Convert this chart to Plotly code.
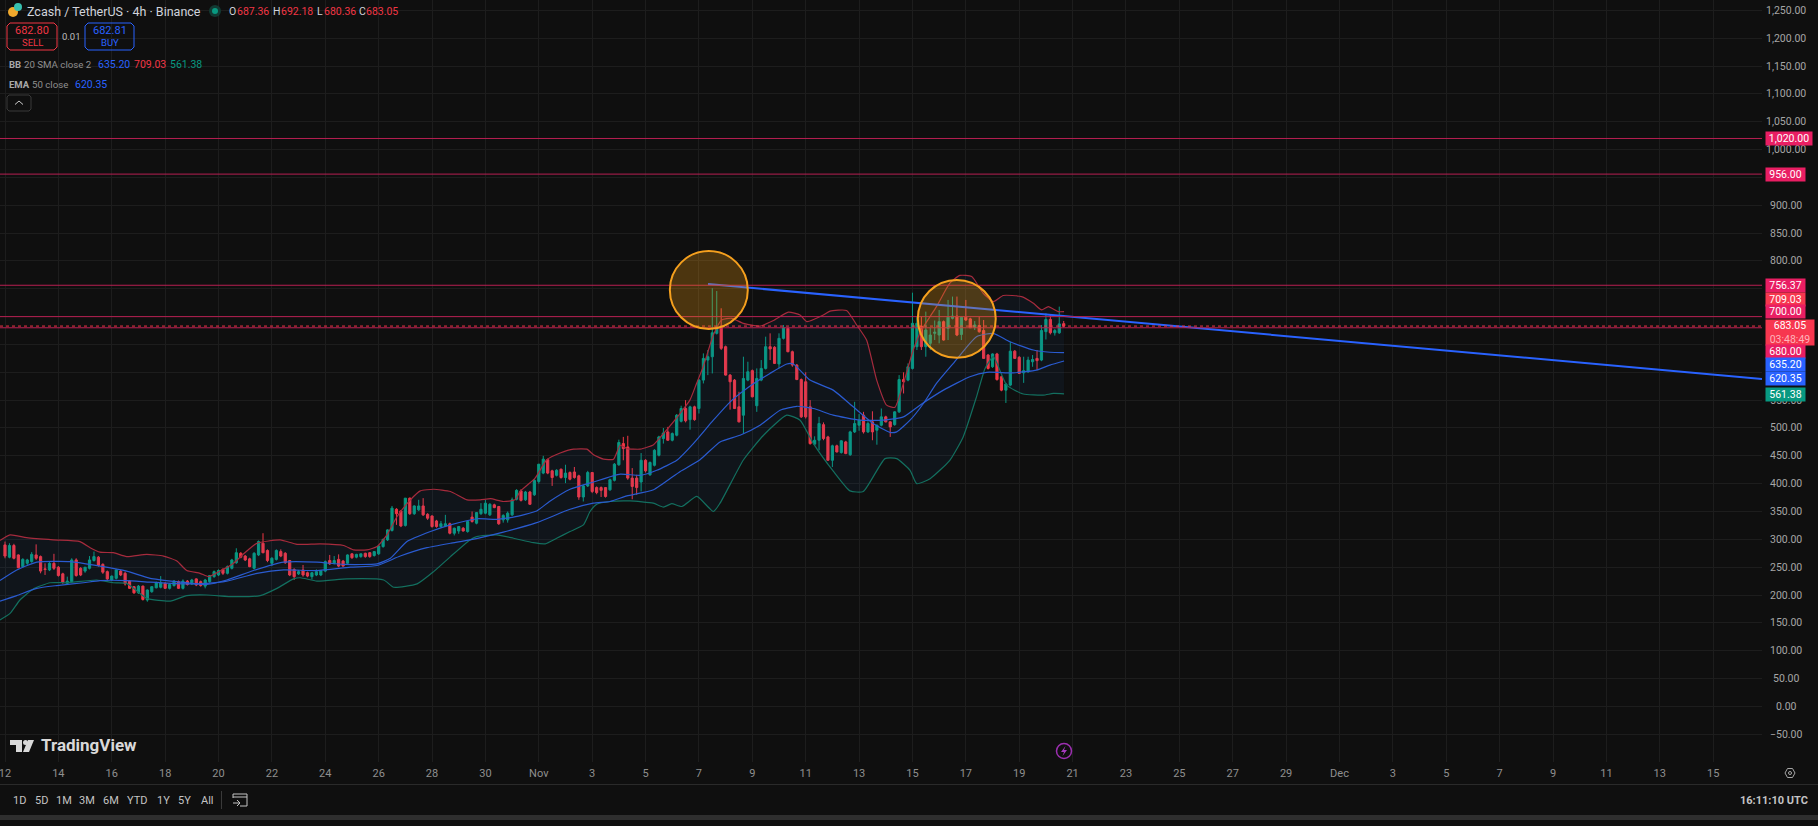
import pandas as pd
import plotly.graph_objects as go

# 4h candles, first one is Oct 12 00:00 UTC
opens = [290, 268, 289, 272, 251, 257, 260, 272, 269, 247,
         245, 257, 250, 238, 221, 224, 263, 248, 243, 248,
         262, 268, 255, 242, 227, 230, 243, 239, 225, 215,
         204, 216, 191, 206, 213, 214, 221, 212, 217, 224,
         212, 225, 220, 229, 224, 216, 224, 233, 236, 246,
         239, 248, 258, 275, 270, 265, 248, 272, 293, 280,
         257, 264, 278, 275, 262, 246, 238, 245, 240, 233,
         236, 236, 243, 262, 257, 264, 261, 257, 274, 268,
         269, 275, 276, 271, 274, 287, 299, 316, 354, 351,
         325, 374, 346, 353, 360, 345, 342, 333, 323, 324,
         328, 311, 315, 320, 314, 340, 329, 346, 347, 344,
         362, 359, 335, 335, 344, 372, 387, 371, 385, 380,
         404, 419, 443, 423, 415, 426, 411, 420, 421, 414,
         376, 396, 420, 393, 393, 393, 389, 406, 434, 472,
         466, 410, 410, 403, 442, 416, 433, 451, 481, 493,
         478, 487, 512, 535, 515, 538, 535, 586, 622, 628,
         670, 682, 646, 595, 586, 538, 523, 586, 603, 540,
         586, 607, 646, 645, 615, 661, 679, 637, 613, 587,
         583, 538, 471, 478, 506, 484, 442, 468, 456, 475,
         452, 493, 505, 523, 493, 511, 496, 505, 520, 511,
         506, 529, 587, 586, 607, 646, 683, 646, 652, 670,
         667, 691, 679, 697, 701, 668, 699, 696, 681, 684,
         675, 631, 610, 633, 592, 568, 577, 638, 627, 599,
         601, 619, 625, 622, 673, 695, 671, 671, 687.36]
highs = [296, 293, 292, 273, 266, 265, 277, 291, 271, 257,
         259, 274, 252, 240, 233, 266, 266, 250, 250, 270,
         278, 270, 257, 244, 235, 247, 245, 242, 227, 216,
         218, 217, 210, 216, 224, 234, 223, 221, 227, 226,
         228, 227, 229, 230, 226, 229, 236, 244, 246, 248,
         253, 265, 284, 277, 272, 267, 277, 298, 311, 282,
         268, 282, 282, 277, 263, 248, 245, 254, 242, 241,
         246, 245, 262, 272, 270, 273, 263, 273, 275, 274,
         274, 276, 277, 279, 290, 301, 318, 360, 356, 352,
         374, 375, 361, 371, 374, 347, 343, 335, 333, 344,
         330, 321, 324, 322, 333, 350, 349, 365, 371, 365,
         364, 360, 345, 350, 375, 390, 390, 387, 387, 408,
         435, 450, 445, 425, 426, 427, 434, 422, 430, 416,
         398, 423, 421, 395, 395, 394, 409, 437, 479, 484,
         486, 428, 416, 455, 444, 440, 462, 486, 500, 502,
         492, 525, 540, 550, 540, 540, 588, 634, 640, 751,
         746, 715, 648, 597, 588, 565, 628, 619, 605, 607,
         622, 664, 670, 647, 670, 685, 681, 639, 615, 589,
         600, 550, 485, 520, 510, 486, 470, 470, 478, 477,
         495, 547, 525, 529, 512, 530, 506, 535, 522, 512,
         530, 595, 600, 616, 743, 700, 700, 709, 680, 693,
         712, 693, 730, 736, 736, 700, 730, 698, 692, 700,
         694, 633, 634, 635, 594, 581, 655, 640, 629, 628,
         628, 631, 640, 685, 706, 703, 678, 718, 692.18]
lows = [266, 266, 264, 248, 249, 254, 258, 263, 239, 236,
        243, 245, 233, 220, 218, 222, 233, 234, 240, 246,
        260, 251, 238, 226, 225, 228, 234, 217, 211, 202,
        202, 190, 188, 204, 212, 212, 211, 210, 215, 211,
        210, 217, 218, 216, 215, 212, 222, 231, 234, 236,
        237, 246, 256, 266, 261, 250, 246, 270, 275, 259,
        252, 262, 268, 256, 234, 227, 236, 233, 232, 228,
        234, 234, 241, 254, 255, 250, 251, 255, 265, 266,
        267, 267, 267, 269, 272, 285, 297, 314, 326, 322,
        323, 344, 344, 351, 342, 335, 321, 321, 321, 322,
        309, 307, 310, 314, 312, 330, 327, 344, 345, 342,
        356, 326, 330, 330, 342, 370, 368, 369, 362, 378,
        400, 417, 417, 396, 413, 409, 401, 406, 409, 371,
        368, 394, 383, 381, 376, 375, 387, 404, 432, 442,
        407, 372, 380, 386, 420, 414, 431, 449, 472, 477,
        476, 485, 510, 510, 497, 513, 526, 580, 595, 598,
        668, 640, 594, 533, 534, 510, 490, 584, 555, 529,
        584, 605, 622, 615, 607, 659, 636, 610, 586, 518,
        517, 470, 469, 460, 478, 441, 430, 456, 454, 453,
        450, 491, 495, 490, 491, 478, 470, 503, 510, 484,
        504, 527, 562, 584, 605, 640, 640, 628, 640, 658,
        652, 657, 658, 695, 665, 658, 692, 680, 676, 671,
        625, 605, 608, 585, 566, 545, 575, 624, 597, 581,
        599, 610, 604, 620, 659, 668, 666, 669, 680.36]
closes = [270, 289, 266, 249, 264, 263, 273, 266, 243, 246,
          257, 248, 235, 223, 225, 263, 235, 236, 250, 263,
          269, 253, 241, 229, 234, 245, 236, 220, 212, 204,
          216, 192, 209, 215, 222, 222, 212, 219, 225, 212,
          225, 219, 227, 218, 217, 227, 235, 242, 244, 239,
          251, 263, 276, 268, 263, 251, 275, 296, 276, 262,
          266, 280, 270, 258, 236, 233, 242, 236, 234, 240,
          242, 244, 260, 256, 262, 252, 252, 272, 267, 273,
          274, 269, 269, 278, 288, 300, 317, 356, 346, 324,
          374, 346, 360, 360, 344, 338, 323, 323, 328, 328,
          311, 320, 323, 315, 332, 332, 348, 354, 365, 363,
          357, 328, 343, 347, 371, 388, 370, 385, 363, 406,
          435, 444, 419, 411, 424, 411, 419, 408, 411, 376,
          396, 420, 386, 384, 388, 377, 407, 435, 474, 463,
          410, 395, 393, 442, 423, 438, 460, 484, 491, 478,
          490, 523, 535, 513, 538, 515, 586, 625, 628, 671,
          682, 643, 595, 583, 535, 511, 589, 601, 556, 589,
          607, 646, 642, 616, 661, 680, 637, 613, 587, 520,
          520, 472, 478, 508, 481, 442, 468, 457, 477, 454,
          493, 508, 514, 493, 508, 493, 505, 520, 511, 502,
          529, 587, 583, 610, 688, 688, 646, 676, 667, 672,
          691, 658, 699, 701, 667, 699, 694, 680, 685, 673,
          625, 607, 633, 587, 568, 579, 638, 625, 598, 603,
          622, 623, 621, 675, 695, 671, 675, 687, 683.05]

# indicator lines, days counted from Oct 12 00:00
upper_days = [-0.19, 0.19, 0.81, 1.81, 2.81, 3.19, 3.56, 4.06, 4.56, 5.31, 5.94, 6.44, 6.81, 7.31, 7.63, 8.06,
              8.56, 8.94, 9.44, 10.31, 10.94, 11.81, 12.69, 13.06, 13.56, 13.94, 14.31, 14.69, 15.19, 15.56,
              16.06, 16.69, 17.31, 17.81, 18.19, 18.67, 19.11, 19.3, 19.86, 20.3, 20.8, 21.3, 21.8, 22.05,
              22.42, 22.8, 23.05, 23.3, 23.8, 24.3, 24.67, 25.29, 25.66, 25.91, 26.16, 26.54, 26.85, 27.23,
              27.66, 28.29, 28.79, 29.35, 29.79, 30.04, 30.66, 30.91, 31.53, 31.91, 32.28, 32.66, 33.03,
              33.34, 33.66, 34.03, 34.34, 34.9, 35.4, 35.78, 36.22, 36.65, 37.03, 37.4, 38.09, 38.53, 38.84,
              39.09, 39.46, 39.68]
upper_band = [298, 308, 303, 299, 296, 285, 277, 276, 269, 273, 270, 261, 244, 239, 233, 243,
              257, 274, 293, 299, 291, 292, 289, 281, 281, 287, 308, 341, 371, 387,
              390, 386, 371, 371, 373, 368, 371, 386, 410, 443, 455, 462, 462, 452,
              444, 444, 469, 463, 462, 470, 490, 526, 550, 580, 610, 667, 694, 697,
              688, 683, 693, 708, 703, 691, 703, 710, 711, 685, 658, 586, 541,
              537, 580, 640, 676, 718, 760, 774, 772, 742, 727, 738, 736, 724, 712,
              718, 709, 709.03]
basis_days = [-0.19, 0.44, 1.19, 2.44, 3.56, 4.56, 5.44, 6.44, 7.56, 8.31, 9.31, 10.44, 11.69, 12.69, 13.94,
              14.44, 15.06, 15.94, 16.69, 17.69, 18.42, 19.05, 19.92, 20.4, 21.17, 22.05, 23.05, 23.8, 24.42,
              25.17, 25.79, 26.54, 27.17, 27.79, 28.66, 29.29, 29.54, 30.16, 31.03, 31.78, 32.53, 33.16,
              33.41, 33.91, 34.41, 34.9, 35.53, 36.4, 37.03, 37.65, 38.53, 39.15, 39.68]
basis_band = [226, 245, 259, 260, 252, 243, 230, 224, 219, 227, 244, 259, 259, 255, 256,
              266, 296, 314, 326, 337, 336, 340, 351, 368, 390, 403, 417, 415, 424,
              442, 472, 514, 547, 571, 598, 615, 615, 586, 568, 538, 508, 492,
              493, 514, 544, 580, 616, 664, 670, 655, 640, 636, 635.2]
lower_days = [-0.19, 0.19, 0.56, 1.06, 1.69, 2.31, 3.44, 4.06, 4.56, 5.31, 6.19, 6.81, 7.56, 8.56, 9.56, 10.19,
              10.81, 11.06, 11.69, 12.81, 14.19, 14.56, 15.44, 16.06, 16.69, 17.42, 17.67, 18.42, 19.05, 19.8,
              20.24, 20.67, 21.17, 21.67, 21.92, 22.17, 22.67, 23.42, 24.29, 24.67, 24.98, 25.36, 25.92, 26.54,
              26.79, 27.67, 28.42, 29.29, 29.79, 30.29, 31.04, 31.66, 32.16, 32.97, 33.41, 33.91, 34.16, 34.66,
              35.4, 35.9, 36.4, 36.72, 37.03, 37.53, 38.15, 38.9, 39.28, 39.68]
lower_band = [155, 167, 191, 211, 222, 222, 227, 222, 221, 194, 189, 199, 200, 197, 199, 212,
              229, 231, 225, 229, 227, 214, 220, 242, 269, 299, 305, 308, 302, 294,
              292, 302, 314, 326, 350, 363, 368, 369, 365, 358, 364, 359, 377, 350,
              365, 443, 487, 523, 514, 472, 422, 387, 386, 445, 445, 424, 400, 409,
              442, 484, 556, 607, 628, 577, 561, 559, 562, 561.38]
ema_days = [-0.19, 0.44, 1.19, 1.94, 2.94, 3.56, 4.56, 5.44, 6.69, 7.56, 8.31, 9.44, 10.44, 11.69, 12.94, 13.94,
            14.81, 15.81, 16.69, 17.42, 18.67, 19.92, 21.17, 22.04, 22.67, 23.3, 24.3, 25.3, 26.04, 26.79,
            27.54, 28.29, 29.04, 29.66, 30.29, 31.03, 32.03, 32.91, 33.66, 34.28, 35.16, 36.15, 36.78, 37.78,
            38.65, 39.15, 39.68]
ema_50 = [189, 199, 212, 217, 222, 226, 226, 223, 220, 221, 225, 239, 245, 244, 250, 253,
          270, 285, 293, 299, 313, 330, 354, 365, 368, 378, 389, 422, 443, 475,
          487, 505, 532, 539, 535, 523, 514, 514, 520, 541, 568, 592, 600, 599,
          604, 613, 620.35]

level_prices = [1020, 956, 756.37, 700, 680]
last_price = 683.05
trend_days = [26.34, 65.83]
trend_prices = [758.6, 588]
# the price boxes cover 600, 650, 700, 750 and 950 on the scale
y_ticks = [-50, 0, 50, 100, 150, 200, 250, 300, 350, 400, 450, 500, 550, 800, 850, 900,
           1000, 1050, 1100, 1150, 1200, 1250]
x_tick_dates = [d for d in pd.date_range("2025-10-12", "2025-10-31", freq="2D")] \
    + pd.date_range("2025-11-01", "2025-11-30", freq="2D").tolist() \
    + pd.date_range("2025-12-01", "2025-12-15", freq="2D").tolist()
x_tick_text = ["Nov" if (d.month, d.day) == (11, 1) else "Dec" if (d.month, d.day) == (12, 1) else str(d.day)
               for d in x_tick_dates]

FONT = "Roboto"
BG = "#0f0f0f"
GREEN = "#089981"
RED = "#f23645"
BLUE = "#2962ff"
PINK = "#e91e63"
LEVEL = "#b81f52"
TEXT = "#d1d4dc"
DIM = "#8f8f8f"

PLOT_W, PLOT_H = 1762, 762
start = pd.Timestamp("2025-10-12")


def dates(days):
    return start + pd.to_timedelta(days, unit="D")


def px(x):
    return x / PLOT_W


def py(y):
    return 1 - y / PLOT_H


def label(text, x, y, size=11, color=TEXT, anchor="left", **kw):
    fig.add_annotation(text=text, x=px(x), y=py(y), xref="paper", yref="paper", xanchor=anchor, yanchor="middle",
                       showarrow=False, borderpad=0, font=dict(family=FONT, size=size, color=color), **kw)


def price_box(text, y, bg, w=39, h=13):
    fig.add_annotation(text=text, x=px(1765), y=py(y), xref="paper", yref="paper", xanchor="left", yanchor="middle",
                       showarrow=False, bgcolor=bg, width=w, height=h, borderpad=0, align="center",
                       font=dict(family=FONT, size=10.5, color="#ffffff"))


def rect(x0, y0, x1, y1, fill=None, line=None, width=1):
    fig.add_shape(type="rect", xref="paper", yref="paper", x0=px(x0), x1=px(x1), y0=py(y0), y1=py(y1),
                  fillcolor=fill, line=dict(color=line, width=width if line else 0))


def path(d, fill=None, line=None, width=1):
    out = []
    for tok in d:
        out.append(f"{tok[0]} {px(tok[1])} {py(tok[2])}" if len(tok) == 3 else tok[0])
    fig.add_shape(type="path", xref="paper", yref="paper", path=" ".join(out), fillcolor=fill,
                  line=dict(color=line, width=width if line else 0))


def round_box(x0, y0, x1, y1, r, color):
    pts = [("M", x0 + r, y0), ("L", x1 - r, y0), ("L", x1, y0 + r), ("L", x1, y1 - r), ("L", x1 - r, y1),
           ("L", x0 + r, y1), ("L", x0, y1 - r), ("L", x0, y0 + r), ("Z",)]
    path(pts, line=color, width=1)


def circle(x, y, r, fill=None, line=None, width=1):
    fig.add_shape(type="circle", xref="paper", yref="paper", x0=px(x - r), x1=px(x + r), y0=py(y - r), y1=py(y + r),
                  fillcolor=fill, line=dict(color=line, width=width if line else 0))


fig = go.Figure()

# band fill
fig.add_trace(go.Scatter(x=list(dates(upper_days)) + list(dates(lower_days))[::-1],
                         y=upper_band + lower_band[::-1], fill="toself", fillcolor="rgba(41,120,200,0.07)",
                         mode="none", hoverinfo="skip"))
fig.add_trace(go.Candlestick(x=pd.date_range(start, periods=len(opens), freq="4h"), open=opens, high=highs, low=lows,
                             close=closes, whiskerwidth=0,
                             increasing=dict(line=dict(color=GREEN, width=1), fillcolor=GREEN),
                             decreasing=dict(line=dict(color=RED, width=1), fillcolor=RED)))
for days, vals, col in [(upper_days, upper_band, "#a62b3d"), (lower_days, lower_band, "#136f5f"),
                        (basis_days, basis_band, "#2a5bd0"), (ema_days, ema_50, "#2a5bd0")]:
    fig.add_trace(go.Scatter(x=dates(days), y=vals, mode="lines", line=dict(color=col, width=1.2, shape="spline",
                                                                            smoothing=0.5), hoverinfo="skip"))
fig.add_trace(go.Scatter(x=dates(trend_days), y=trend_prices, mode="lines", line=dict(color=BLUE, width=2),
                         hoverinfo="skip"))

fig.update_layout(width=1818, height=826, paper_bgcolor=BG, plot_bgcolor=BG, showlegend=False,
                  margin=dict(l=0, r=56, t=0, b=64, autoexpand=False), font=dict(family=FONT),
                  xaxis=dict(type="date", range=["2025-10-11 19:30", "2025-12-16 19:55"], rangeslider=dict(visible=False),
                             tickmode="array", tickvals=x_tick_dates, ticktext=x_tick_text, gridcolor="#1d1d1d",
                             tickfont=dict(size=11, color=DIM, family=FONT), ticks="outside", ticklen=1,
                             tickcolor=BG, showline=False, zeroline=False, ticklabeloverflow="allow"),
                  yaxis=dict(side="right", range=[-99.9, 1268.7], dtick=50, tick0=0, gridcolor="#1d1d1d",
                             showticklabels=False, zeroline=False, showline=False))

for p in level_prices:
    fig.add_hline(y=p, line=dict(color=LEVEL, width=1))
fig.add_hline(y=last_price, line=dict(color=RED, width=1, dash="dot"))

# highlighted tops
for cx, cy in [(26.37, 748), (35.66, 696)]:
    fig.add_shape(type="circle", x0=dates(cx - 1.46), x1=dates(cx + 1.46), y0=cy - 70, y1=cy + 70,
                  fillcolor="rgba(245,160,20,0.27)", line=dict(color="#f5a01e", width=2))

# price scale
for t in y_ticks:
    txt = f"{t:,.2f}".replace("-", "−")
    fig.add_annotation(text=txt, x=px(1786), xref="paper", y=t, yref="y", xanchor="center", yanchor="middle",
                       showarrow=False, font=dict(family=FONT, size=10.5, color="#a6a6a6"))

price_box("1,020.00", 138.5, PINK, w=46)
price_box("956.00", 174, PINK)
price_box("756.37", 285.5, PINK)
price_box("709.03", 299, "#f7374f")
price_box("700.00", 312, PINK)
price_box("683.05<br><span style='color:#ffb3ba'>03:48:49</span>", 332, "#f7374f", w=48, h=25)
price_box("680.00", 351, PINK)
price_box("635.20", 364.5, BLUE)
price_box("620.35", 378, BLUE)
price_box("561.38", 394, GREEN)

# header
circle(13, 12, 5, fill="#f0a92d")
circle(18, 7, 4, fill="#37c0b0")
label("Zcash / TetherUS · 4h · Binance", 26, 11, size=12.5)
circle(215, 11, 6, fill="#123a33")
circle(215, 11, 3, fill="#089981")
for txt, x, col in [("O", 228, TEXT), ("687.36", 236, RED), ("H", 272, TEXT), ("692.18", 280, RED),
                    ("L", 316, TEXT), ("680.36", 323, RED), ("C", 358, TEXT), ("683.05", 365, RED)]:
    label(txt, x, 12, size=10.5, color=col)
round_box(7, 23, 57, 50, 3, RED)
round_box(85, 23, 134, 50, 3, BLUE)
label("682.80", 32, 31, color=RED, anchor="center")
label("SELL", 32, 42, size=9.5, color=RED, anchor="center")
label("0.01", 71, 37, size=9.5, color="#bdbdbd", anchor="center")
label("682.81", 110, 31, color=BLUE, anchor="center")
label("BUY", 110, 42, size=9.5, color=BLUE, anchor="center")
label("<b>BB</b>", 8, 64, color="#a9a9a9", size=9.5)
label("20 SMA close 2", 23, 64, color=DIM, size=9.7)
label("635.20", 97, 64, color=BLUE, size=10.5)
label("709.03", 133, 64, color=RED, size=10.5)
label("561.38", 169, 64, color=GREEN, size=10.5)
label("<b>EMA</b>", 8, 84, color="#a9a9a9", size=9.5)
label("50 close", 31, 84, color=DIM, size=9.7)
label("620.35", 74, 84, color=BLUE, size=10.5)
round_box(7, 95, 31, 111, 2, "#3a3a3a")
path([("M", 15, 104.5), ("L", 19, 101), ("L", 23, 104.5)], line="#c8c8c8", width=1)

# watermark
path([("M", 10, 740), ("L", 22, 740), ("L", 22, 752), ("L", 16, 752), ("L", 16, 745), ("L", 10, 745), ("Z",)], fill="#d9d9d9")
circle(25.5, 742.5, 2.5, fill="#d9d9d9")
path([("M", 28, 740), ("L", 34, 740), ("L", 29, 752), ("L", 23, 752), ("Z",)], fill="#d9d9d9")
label("<b>TradingView</b>", 40, 745, size=17, color="#d9d9d9")

# lightning marker
circle(1064, 751, 7.5, line="#9c2fb0", width=1.5)
path([("M", 1065.5, 746), ("L", 1061, 752), ("L", 1064, 752), ("L", 1062.5, 756), ("L", 1067, 750), ("L", 1064, 750), ("Z",)],
     fill="#a83ac0")

# settings icon on the time scale
path([("M", 1785, 773), ("L", 1787.5, 768.5), ("L", 1792.5, 768.5), ("L", 1795, 773), ("L", 1792.5, 777.5),
      ("L", 1787.5, 777.5), ("Z",)], line="#a6a6a6", width=1)
circle(1790, 773, 1.5, line="#a6a6a6", width=1)

# bottom toolbar
rect(0, 784, 1818, 785, fill="#2a2a2a")
for txt, x in [("1D", 19), ("5D", 41), ("1M", 64), ("3M", 87), ("6M", 111), ("YTD", 137), ("1Y", 163), ("5Y", 184), ("All", 207)]:
    label(txt, x, 801, color="#c4c4c4", anchor="center")
rect(221, 791, 222, 809, fill="#3a3a3a")
path([("M", 233, 798), ("L", 233, 794), ("L", 247, 794), ("L", 247, 806), ("L", 240, 806)], line="#c4c4c4", width=1)
path([("M", 233, 797), ("L", 247, 797)], line="#c4c4c4", width=1)
path([("M", 233, 803), ("L", 240, 803), ("L", 237, 800), ("M", 240, 803), ("L", 237, 806)], line="#c4c4c4", width=1)
label("<b>16:11:10 UTC</b>", 1809, 800, color="#c4c4c4", anchor="right")
rect(0, 815, 1818, 820, fill="#2e2e2e")

fig.write_html("out.html", config={"displayModeBar": False},
               post_script="document.body.style.margin='0';document.body.style.background='#0f0f0f';")
